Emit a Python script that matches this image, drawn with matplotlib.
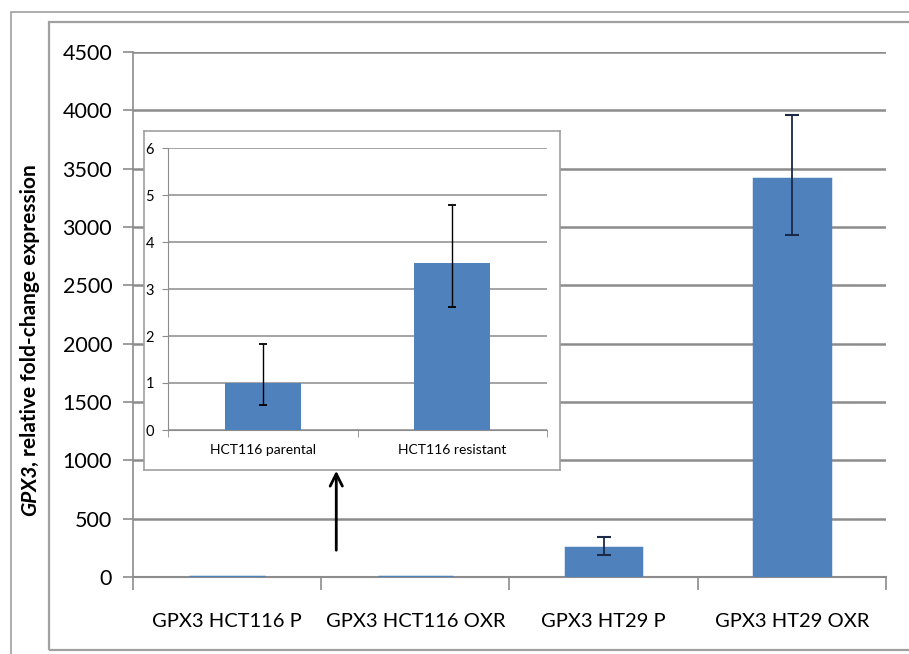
import matplotlib
matplotlib.use("Agg")
import matplotlib.pyplot as plt
from matplotlib.patches import Rectangle
import numpy as np

# ---- data ----
categories = ["GPX3 HCT116 P", "GPX3 HCT116 OXR", "GPX3 HT29 P", "GPX3 HT29 OXR"]
values = [1.0, 3.55, 250, 3410]
err_low = [0.47, 0.93, 62, 480]
err_high = [0.82, 1.23, 93, 550]
yticks_main = [0, 500, 1000, 1500, 2000, 2500, 3000, 3500, 4000, 4500]

inset_categories = ["HCT116 parental", "HCT116 resistant"]
inset_values = [1.0, 3.55]
inset_err_low = [0.47, 0.93]
inset_err_high = [0.82, 1.23]
inset_yticks = [0, 1, 2, 3, 4, 5, 6]

ylabel_italic = "GPX3"
ylabel_rest = ", relative fold-change expression"

BLUE = "#4f81bd"
GRID = "#8c8c8c"
ERR = "#1b2a48"
W, H = 909, 654
FONT = ["Lato", "DejaVu Sans"]

fig = plt.figure(figsize=(W / 100, H / 100), dpi=100)

def fx(px):
    return px / W

def fy(py):
    return 1 - py / H

# frames
fig.add_artist(Rectangle((fx(11), fy(700)), fx(1000), fy(12) - fy(700),
                         transform=fig.transFigure, fill=False, ec="#a0a0a0", lw=1.2))
fig.add_artist(Rectangle((fx(49), fy(650)), fx(1000), fy(22) - fy(650),
                         transform=fig.transFigure, fill=False, ec="#a0a0a0", lw=1.6))

# ---- main axes ----
ax = fig.add_axes([fx(133), fy(577), fx(886) - fx(133), fy(52) - fy(577)])
x = np.arange(len(categories))
ax.bar(x, values, width=0.4, color=BLUE, edgecolor=BLUE, linewidth=2.5, zorder=3)
ax.errorbar(x[2:], values[2:], yerr=[err_low[2:], err_high[2:]], fmt="none",
            ecolor=ERR, elinewidth=1.3, capsize=5, capthick=1.5, zorder=4)
ax.set_xlim(-0.5, len(categories) - 0.5)
ax.set_ylim(0, 4500)
ax.set_yticks(yticks_main)
ax.set_yticklabels([str(v) for v in yticks_main], family=FONT, fontsize=15.5)
ax.yaxis.grid(True, color=GRID, lw=1.8)
ax.set_axisbelow(True)
ax.set_xticks(x)
ax.set_xticklabels(categories, family=FONT, fontsize=14.5)
ax.tick_params(axis="x", length=0, pad=26)
ax.set_xticks(np.arange(-0.5, len(categories)), minor=True)
ax.tick_params(axis="x", which="minor", length=9, color=GRID, width=1.2)
ax.tick_params(axis="y", length=7, color=GRID, width=1.2, pad=8)
for s in ["top", "right"]:
    ax.spines[s].set_visible(False)
ax.spines["left"].set_color(GRID)
ax.spines["bottom"].set_color(GRID)
ax.spines["left"].set_linewidth(1.2)
ax.spines["bottom"].set_linewidth(1.5)

# arrow
ax.annotate("", xy=(0.5 + (337 - 322) / 188, (577 - 468) * 4500 / 525),
            xytext=(0.5 + (337 - 322) / 188, (577 - 553) * 4500 / 525),
            arrowprops=dict(arrowstyle="->", color="black", lw=2, mutation_scale=22),
            zorder=6)

# ---- inset box ----
box = fig.add_axes([fx(144), fy(470), fx(560) - fx(144), fy(131) - fy(470)], zorder=2)
box.set_xticks([])
box.set_yticks([])
for s in box.spines.values():
    s.set_color("#a0a0a0")
    s.set_linewidth(1.2)

ins = fig.add_axes([fx(168), fy(430), fx(547) - fx(168), fy(148) - fy(430)], zorder=3)
ins.patch.set_alpha(0)
xi = np.arange(len(inset_categories))
ins.bar(xi, inset_values, width=0.4, color=BLUE, zorder=3)
ins.errorbar(xi, inset_values, yerr=[inset_err_low, inset_err_high], fmt="none",
             ecolor="black", elinewidth=1, capsize=3, capthick=1.3, zorder=4)
ins.set_xlim(-0.5, len(inset_categories) - 0.5)
ins.set_ylim(0, 6)
ins.set_yticks(inset_yticks)
ins.set_yticklabels([str(v) for v in inset_yticks], family=FONT, fontsize=10.5)
ins.yaxis.grid(True, color=GRID, lw=1.1)
ins.set_axisbelow(True)
ins.set_xticks(xi)
ins.set_xticklabels(inset_categories, family=FONT, fontsize=10)
ins.tick_params(axis="x", length=0, pad=10)
ins.set_xticks(np.arange(-0.5, len(inset_categories)), minor=True)
ins.tick_params(axis="x", which="minor", length=5, color=GRID)
ins.tick_params(axis="y", length=4, color=GRID, pad=6)
for s in ["top", "right"]:
    ins.spines[s].set_visible(False)
ins.spines["left"].set_color(GRID)
ins.spines["bottom"].set_color(GRID)

# ---- y label (italic + normal, bold) ----
fig.canvas.draw()
r = fig.canvas.get_renderer()
t1 = fig.text(fx(30), fy(516), ylabel_italic, rotation=90, rotation_mode="anchor",
              ha="left", va="center", fontsize=15, fontweight="bold", fontstyle="italic",
              family=FONT)
bb = t1.get_window_extent(r)
t2 = fig.text(fx(30), (bb.y1 - 1) / H, ylabel_rest, rotation=90, rotation_mode="anchor",
              ha="left", va="center", fontsize=15, fontweight="bold", family=FONT)

fig.savefig("out.png", dpi=100)
